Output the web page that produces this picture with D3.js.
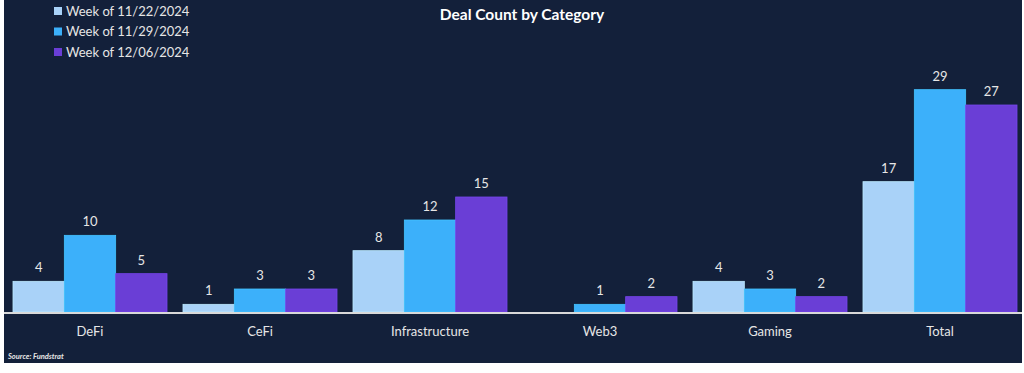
<!DOCTYPE html>
<html>
<head>
<meta charset="utf-8">
<script src="https://cdn.jsdelivr.net/npm/d3@7"></script>
<style>
  html, body { margin: 0; padding: 0; background: #ffffff; }
  svg { display: block; font-family: Lato, "Open Sans", sans-serif; }
</style>
</head>
<body>
<svg id="chart"></svg>
<script>
(function() {
    const width = 1024;
    const height = 373;

    // --- DATA ---
    const categories = ["DeFi", "CeFi", "Infrastructure", "Web3", "Gaming", "Total"];
    const seriesNames = ["Week of 11/22/2024", "Week of 11/29/2024", "Week of 12/06/2024"];
    const week1122 = [4, 1, 8, 0, 4, 17];
    const week1129 = [10, 3, 12, 1, 3, 29];
    const week1206 = [5, 3, 15, 2, 2, 27];
    const seriesColors = ["#a9d2f8", "#3cb0fa", "#6a3ed6"];

    const seriesValues = [week1122, week1129, week1206];
    const data = [];
    categories.forEach((cat, i) => {
        seriesNames.forEach((s, j) => {
            data.push({ category: cat, series: s, value: seriesValues[j][i], color: seriesColors[j] });
        });
    });

    const svg = d3.select("#chart")
        .attr("width", width)
        .attr("height", height);

    // panel background
    svg.append("rect")
        .attr("x", 4).attr("y", 0)
        .attr("width", 1018).attr("height", 363)
        .attr("fill", "#13203a");

    // --- SCALES ---
    const x0 = d3.scaleBand()
        .domain(categories)
        .range([5, 1025])
        .paddingInner(0.094)
        .paddingOuter(0.047);

    const x1 = d3.scaleBand()
        .domain(seriesNames)
        .range([0, x0.bandwidth()])
        .padding(0);

    const baseline = 312;
    const y = d3.scaleLinear().domain([0, 30]).range([baseline, 82]);

    // --- BARS ---
    const bars = svg.append("g");
    bars.selectAll("rect")
        .data(data.filter(d => d.value > 0))
        .join("rect")
        .attr("x", d => x0(d.category) + x1(d.series))
        .attr("y", d => y(d.value))
        .attr("width", x1.bandwidth())
        .attr("height", d => baseline - y(d.value))
        .attr("fill", d => d.color)
        .attr("stroke", d => d3.color(d.color).brighter(0.3))
        .attr("stroke-width", 0.8);

    bars.selectAll("text")
        .data(data.filter(d => d.value > 0))
        .join("text")
        .attr("x", d => x0(d.category) + x1(d.series) + x1.bandwidth() / 2)
        .attr("y", d => y(d.value) - 9)
        .attr("text-anchor", "middle")
        .attr("fill", "#e6e6e6")
        .attr("font-size", "13px")
        .text(d => d.value);

    // --- AXIS ---
    svg.append("line")
        .attr("x1", 4).attr("x2", 1022)
        .attr("y1", baseline + 1).attr("y2", baseline + 1)
        .attr("stroke", "#d9d9d9")
        .attr("stroke-width", 2);

    const xAxis = svg.append("g")
        .attr("transform", `translate(0,${baseline + 2})`)
        .call(d3.axisBottom(x0).tickSize(0).tickPadding(13));
    xAxis.select(".domain").remove();
    xAxis.selectAll("text")
        .attr("fill", "#e6e6e6")
        .attr("font-size", "13px")
        .attr("font-family", "Lato, 'Open Sans', sans-serif");

    // --- TITLE ---
    svg.append("text")
        .attr("x", 522).attr("y", 20)
        .attr("text-anchor", "middle")
        .attr("fill", "#ffffff")
        .attr("font-size", "15.5px")
        .attr("font-weight", "bold")
        .text("Deal Count by Category");

    // --- LEGEND ---
    const legend = svg.append("g");
    seriesNames.forEach((s, j) => {
        const ly = 11 + j * 20.5;
        legend.append("rect")
            .attr("x", 54).attr("y", ly - 4)
            .attr("width", 8).attr("height", 8)
            .attr("fill", seriesColors[j]);
        legend.append("text")
            .attr("x", 66).attr("y", ly + 4.5)
            .attr("fill", "#e6e6e6")
            .attr("font-size", "13px")
            .text(s);
    });

    // --- SOURCE ---
    svg.append("text")
        .attr("x", 8).attr("y", 359)
        .attr("fill", "#e6e6e6")
        .attr("font-size", "7.5px")
        .attr("font-style", "italic")
        .attr("font-weight", "bold")
        .text("Source: Fundstrat");
})();
</script>
</body>
</html>
